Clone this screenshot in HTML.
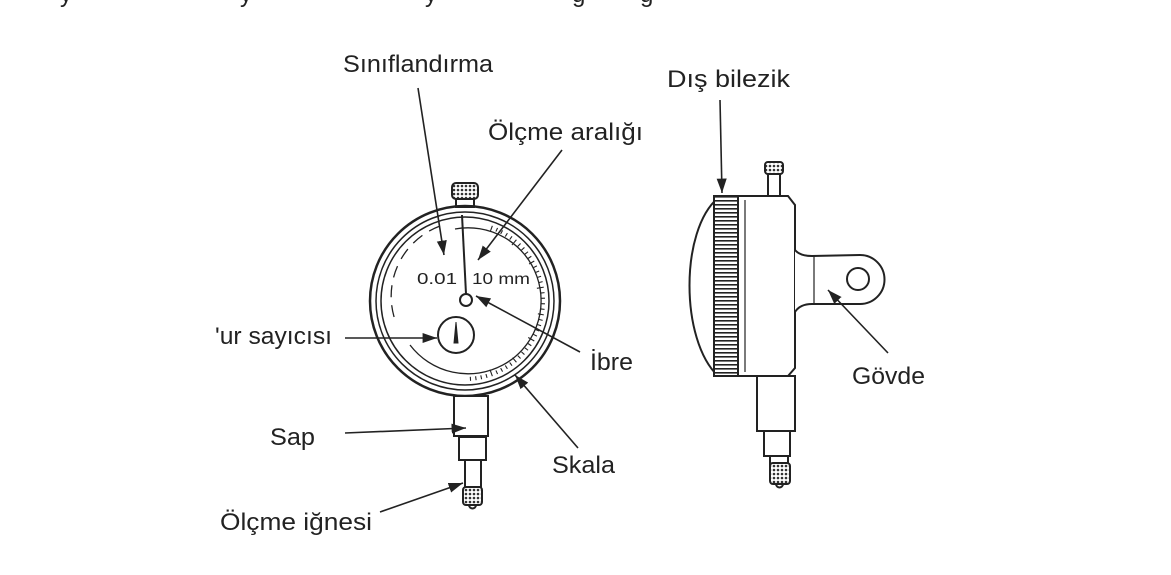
<!DOCTYPE html>
<html><head><meta charset="utf-8"><style>
body{margin:0;background:#fff}
svg{display:block}
text{font-family:"Liberation Sans",sans-serif;font-size:24px;fill:#222}
</style></head><body>
<svg width="1171" height="575" viewBox="0 0 1171 575" xmlns="http://www.w3.org/2000/svg">
<defs>
<marker id="a" viewBox="0 0 10 10" refX="10" refY="5" markerWidth="9" markerHeight="9" orient="auto-start-reverse"><path d="M0,1.5 L10,5 L0,8.5 z" fill="#222"/></marker>
<pattern id="k" width="4" height="4" patternUnits="userSpaceOnUse"><rect width="4" height="4" fill="#fff"/><circle cx="2" cy="2" r="1.3" fill="#333"/></pattern>
<pattern id="r" width="8" height="4" patternUnits="userSpaceOnUse"><rect width="8" height="4" fill="#fff"/><rect width="8" height="1.6" fill="#222"/></pattern>
</defs>
<text x="60" y="2">y</text><text x="240" y="2">y</text><text x="425" y="2">y</text><text x="572" y="2">g</text><text x="640" y="2">g</text>
<g stroke="#222" fill="none" stroke-width="2">
<rect x="452" y="183" width="26" height="16" rx="4" fill="url(#k)"/>
<rect x="456" y="199" width="18" height="8" fill="#fff"/>
<circle cx="465" cy="301" r="95" stroke-width="2.5"/>
<circle cx="465" cy="301" r="89" stroke-width="1.5"/>
<circle cx="465" cy="301" r="84" stroke-width="1.5"/>
<path d="M455,229 A73,73 0 1 1 410,345" stroke-width="1.3"/>
<path d="M440,226 A75,75 0 0 0 395,320" stroke-width="1.3" stroke-dasharray="12 8"/>
<g stroke-width="1.1" transform="translate(465,301)">
<g id="tk">
<line x1="0" y1="-80" x2="0" y2="-74" transform="rotate(20)"/><line x1="0" y1="-80" x2="0" y2="-76" transform="rotate(24)"/>
<line x1="0" y1="-80" x2="0" y2="-76" transform="rotate(28)"/><line x1="0" y1="-80" x2="0" y2="-76" transform="rotate(32)"/>
<line x1="0" y1="-80" x2="0" y2="-76" transform="rotate(36)"/><line x1="0" y1="-80" x2="0" y2="-73" transform="rotate(40)"/>
<line x1="0" y1="-80" x2="0" y2="-76" transform="rotate(44)"/><line x1="0" y1="-80" x2="0" y2="-76" transform="rotate(48)"/>
<line x1="0" y1="-80" x2="0" y2="-76" transform="rotate(52)"/><line x1="0" y1="-80" x2="0" y2="-76" transform="rotate(56)"/>
</g>
<use href="#tk" transform="rotate(40)"/><use href="#tk" transform="rotate(80)"/><use href="#tk" transform="rotate(120)"/>
</g>
<line x1="462" y1="215" x2="466" y2="294"/>
<circle cx="466" cy="300" r="6" fill="#fff"/>
<circle cx="456" cy="335" r="18"/>
<path d="M454,343 L456,322 L458,343 z" fill="#222" stroke-width="1"/>
<rect x="454" y="396" width="34" height="40" fill="#fff"/>
<rect x="459" y="437" width="27" height="23"/>
<rect x="465" y="460" width="16" height="27"/>
<rect x="463" y="487" width="19" height="18" rx="3" fill="url(#k)"/>
<path d="M469,505 a3,3 0 0 0 7,0"/>
<rect x="765" y="162" width="18" height="12" rx="3" fill="url(#k)"/>
<rect x="768" y="174" width="12" height="22" fill="#fff"/>
<path d="M718,198 C680,230 680,340 718,376"/>
<rect x="714" y="196" width="24" height="180" fill="url(#r)"/>
<path d="M738,196 L788,196 L795,205 L795,368 L788,376 L738,376 z" fill="#fff"/>
<line x1="745" y1="200" x2="745" y2="372" stroke-width="1.2"/>
<path d="M795,250 Q800,256 812,256 L860,255 A24,24 0 0 1 860,304 L812,304 Q800,304 795,312" fill="#fff"/>
<line x1="814" y1="256" x2="814" y2="304" stroke-width="1.2"/>
<circle cx="858" cy="279" r="11"/>
<rect x="757" y="376" width="38" height="55" fill="#fff"/>
<rect x="764" y="431" width="26" height="25"/>
<rect x="770" y="456" width="18" height="10"/>
<rect x="770" y="463" width="20" height="21" rx="3" fill="url(#k)"/>
<path d="M776,484 a3,3 0 0 0 7,0"/>
<g stroke-width="1.6" marker-end="url(#a)">
<line x1="418" y1="88" x2="444" y2="255"/>
<line x1="562" y1="150" x2="478" y2="260"/>
<line x1="345" y1="338" x2="437" y2="338"/>
<line x1="580" y1="352" x2="476" y2="296"/>
<line x1="345" y1="433" x2="466" y2="428"/>
<line x1="578" y1="448" x2="515" y2="375"/>
<line x1="380" y1="512" x2="463" y2="483"/>
<line x1="720" y1="100" x2="722" y2="193"/>
<line x1="888" y1="353" x2="828" y2="290"/>
</g>
</g>
<text x="343" y="72" textLength="150" lengthAdjust="spacingAndGlyphs">Sınıflandırma</text>
<text x="488" y="140" textLength="155" lengthAdjust="spacingAndGlyphs">Ölçme aralığı</text>
<text x="215" y="344" textLength="117" lengthAdjust="spacingAndGlyphs">'ur sayıcısı</text>
<text x="590" y="370" textLength="43" lengthAdjust="spacingAndGlyphs">İbre</text>
<text x="270" y="445" textLength="45" lengthAdjust="spacingAndGlyphs">Sap</text>
<text x="552" y="473" textLength="63" lengthAdjust="spacingAndGlyphs">Skala</text>
<text x="220" y="530" textLength="152" lengthAdjust="spacingAndGlyphs">Ölçme iğnesi</text>
<text x="667" y="87" textLength="123" lengthAdjust="spacingAndGlyphs">Dış bilezik</text>
<text x="852" y="384" textLength="73" lengthAdjust="spacingAndGlyphs">Gövde</text>
<text x="417" y="284" style="font-size:16px" textLength="40" lengthAdjust="spacingAndGlyphs">0.01</text>
<text x="472" y="284" style="font-size:16px" textLength="58" lengthAdjust="spacingAndGlyphs">10 mm</text>
</svg>
</body></html>
